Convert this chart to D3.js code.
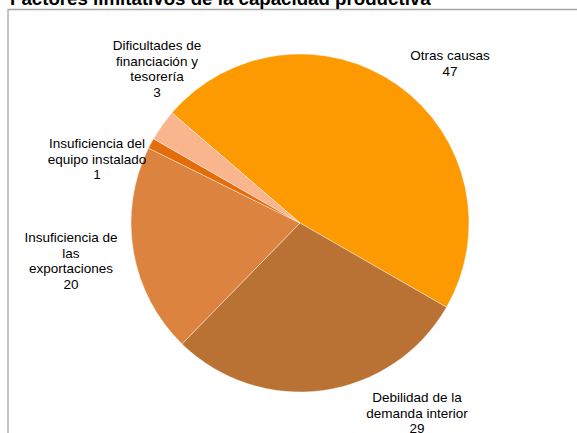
<!DOCTYPE html>
<html>
<head>
<meta charset="utf-8">
<script src="https://cdn.jsdelivr.net/npm/d3@7"></script>
<style>
    body { margin: 0; background: #fff; }
    text { font-family: "Liberation Sans", Arial, sans-serif; fill: #000; }
</style>
</head>
<body>
<div id="chart"></div>
<script>
// data
const categories = ["Otras causas", "Debilidad de la demanda interior", "Insuficiencia de las exportaciones",
    "Insuficiencia del equipo instalado", "Dificultades de financiación y tesorería"];
const values = [47, 29, 20, 1, 3];
const sliceColors = ["#FD9A02", "#B97234", "#DC843F", "#E46C0A", "#F9B58D"];
// label lines as wrapped in the chart
const labelLines = [
    ["Otras causas", "47"],
    ["Debilidad de la", "demanda interior", "29"],
    ["Insuficiencia de", "las", "exportaciones", "20"],
    ["Insuficiencia del", "equipo instalado", "1"],
    ["Dificultades de", "financiación y", "tesorería", "3"]
];
// label centres (x, first line y)
const labelPos = [[450, 60], [417, 402], [71, 242], [97, 148], [157, 50]];

const width = 577, height = 433;
const cx = 300, cy = 223, radius = 169;
const startDeg = -49.3;

const svg = d3.select("#chart").append("svg")
    .attr("width", width)
    .attr("height", height);

// frame
svg.append("path")
    .attr("d", `M8,${height + 2} L8,9.5 L${width + 2},9.5`)
    .attr("fill", "none")
    .attr("stroke", "#a6a6a6")
    .attr("stroke-width", 1.3);

// title (cut at top like the original)
svg.append("text")
    .attr("x", 10)
    .attr("y", 5)
    .attr("font-size", "18.7px")
    .attr("font-weight", "bold")
    .text("Factores limitativos de la capacidad productiva");

const pie = d3.pie()
    .sort(null)
    .startAngle(startDeg * Math.PI / 180)
    .endAngle(startDeg * Math.PI / 180 + 2 * Math.PI);

const arc = d3.arc().innerRadius(0).outerRadius(radius);

const g = svg.append("g").attr("transform", `translate(${cx},${cy})`);

g.selectAll(".slice")
    .data(pie(values))
    .enter().append("path")
    .attr("class", "slice")
    .attr("d", arc)
    .attr("fill", (d, i) => sliceColors[i])
    .attr("stroke", "#fff")
    .attr("stroke-width", 0.4);

// labels
const labels = svg.selectAll(".label")
    .data(categories)
    .enter().append("text")
    .attr("class", "label")
    .attr("text-anchor", "middle")
    .attr("font-size", "13.5px");

labels.each(function (d, i) {
    let t = d3.select(this);
    labelLines[i].forEach((line, j) => {
        t.append("tspan")
            .attr("x", labelPos[i][0])
            .attr("y", labelPos[i][1] + j * 15.5)
            .text(line);
    });
});
</script>
</body>
</html>
